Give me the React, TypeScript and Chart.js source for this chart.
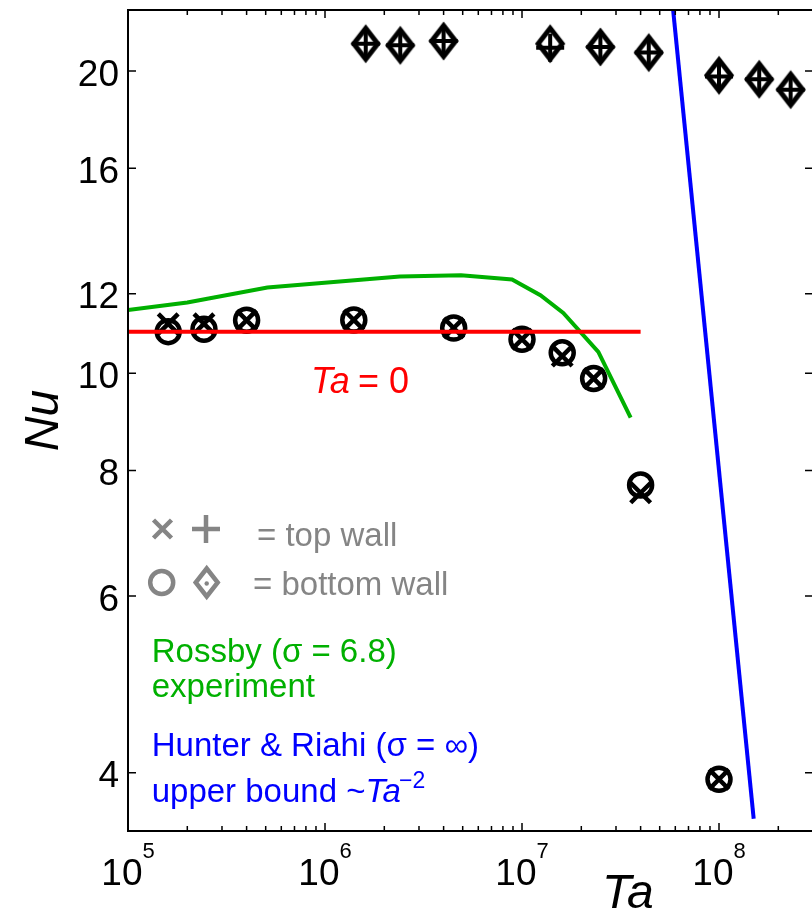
import React, { useEffect, useRef } from 'react';
import { Chart, registerables } from 'chart.js';

Chart.register(...registerables);

const FONT = "'Liberation Sans', Arial, Helvetica, sans-serif";

// Axis ranges and ticks
const xMin = 1e5;
const xMax = 3e8;
const yMin = 3.5;
const yMax = 23;
const yTicks = [4, 6, 8, 10, 12, 16, 20];
const xDecades = [5, 6, 7, 8];

// Ta = 0 reference value
const ta0Ta = [1e5, 4e7];
const ta0Nu = [11.0, 11.0];

// Rossby (sigma = 6.8) experiment
const rossbyTa = [1e5, 2.0e5, 5.1e5, 2.4e6, 4.9e6, 8.9e6, 1.24e7, 1.62e7, 2.44e7, 3.56e7];
const rossbyNu = [11.56, 11.76, 12.17, 12.48, 12.52, 12.4, 11.96, 11.48, 10.5, 9.03];

// Hunter & Riahi upper bound ~ Ta^-2
const hunterTa = [5.85e7, 1.5e8];
const hunterNu = [23.0, 3.6];

// Lower branch (circle = bottom wall, x = top wall)
const lowTa = [1.6e5, 2.43e5, 4.0e5, 1.4e6, 4.5e6, 1.0e7, 1.6e7, 2.31e7, 4.0e7, 1.0e8];
const lowBottomNu = [11.0, 11.06, 11.29, 11.3, 11.09, 10.81, 10.48, 9.88, 7.74, 3.94];
const lowTopNu = [11.2, 11.2, 11.29, 11.3, 11.09, 10.81, 10.4, 9.88, 7.6, 3.94];

// Upper branch (diamond = bottom wall, + = top wall)
const highTa = [1.61e6, 2.41e6, 4.0e6, 1.39e7, 2.5e7, 4.4e7, 1.0e8, 1.6e8, 2.31e8];
const highBottomNu = [21.29, 21.21, 21.42, 21.29, 21.13, 20.86, 19.8, 19.62, 19.16];
const highTopNu = [21.29, 21.21, 21.42, 21.09, 21.13, 20.86, 19.75, 19.62, 19.16];

const zip = (xs: number[], ys: number[]) => xs.map((x, i) => ({ x, y: ys[i] }));

const RED = '#ff0000';
const GREEN = '#00b000';
const BLUE = '#0000ff';
const GRAY = '#858585';

function makeDiamond(hw: number, hh: number, lw: number, color: string) {
  const c = document.createElement('canvas');
  const W = 2 * Math.ceil(hw + lw * 1.5);
  const H = 2 * Math.ceil(hh + lw * 1.5);
  c.width = W;
  c.height = H;
  const g = c.getContext('2d') as CanvasRenderingContext2D;
  g.strokeStyle = color;
  g.lineWidth = lw;
  g.lineJoin = 'miter';
  g.beginPath();
  g.moveTo(W / 2, H / 2 - hh);
  g.lineTo(W / 2 + hw, H / 2);
  g.lineTo(W / 2, H / 2 + hh);
  g.lineTo(W / 2 - hw, H / 2);
  g.closePath();
  g.stroke();
  return c;
}

const framePlugin = {
  id: 'frameAndText',
  afterDatasetsDraw(chart: any) {
    const { ctx, chartArea: a, scales } = chart;
    const xs = scales.x;
    const ys = scales.y;
    ctx.save();
    ctx.strokeStyle = '#000';
    ctx.lineWidth = 2;
    ctx.beginPath();
    ctx.moveTo(a.left, a.top);
    ctx.lineTo(a.right, a.top);
    ctx.lineTo(a.right, a.bottom);
    ctx.lineTo(a.left, a.bottom);
    ctx.closePath();
    ctx.stroke();

    ctx.lineWidth = 1.5;
    ctx.beginPath();
    for (const v of yTicks) {
      const py = ys.getPixelForValue(v);
      ctx.moveTo(a.left, py);
      ctx.lineTo(a.left + 8, py);
      ctx.moveTo(a.right, py);
      ctx.lineTo(a.right - 8, py);
    }
    for (const d of xDecades) {
      for (let k = 1; k <= 9; k++) {
        const v = k * Math.pow(10, d);
        if (v > xMax) continue;
        const px = xs.getPixelForValue(v);
        const len = k === 1 ? 8 : 5;
        ctx.moveTo(px, a.bottom);
        ctx.lineTo(px, a.bottom - len);
        ctx.moveTo(px, a.top);
        ctx.lineTo(px, a.top + len);
      }
    }
    ctx.stroke();
    ctx.restore();
  },
  afterDraw(chart: any) {
    const { ctx, chartArea: a, scales } = chart;
    const xs = scales.x;
    const ys = scales.y;
    ctx.save();
    ctx.fillStyle = '#000';
    ctx.textBaseline = 'alphabetic';

    // y tick labels
    ctx.font = `37px ${FONT}`;
    ctx.textAlign = 'right';
    for (const v of yTicks) {
      const py = ys.getPixelForValue(v);
      ctx.fillText(String(v), a.left - 9, py + 14.7);
    }

    // x tick labels 10^n
    ctx.textAlign = 'left';
    for (const d of xDecades) {
      const px = xs.getPixelForValue(Math.pow(10, d));
      ctx.font = `37px ${FONT}`;
      const w1 = ctx.measureText('10').width;
      ctx.font = `22px ${FONT}`;
      const w2 = ctx.measureText(String(d)).width;
      const start = px - (w1 + w2) / 2;
      ctx.font = `37px ${FONT}`;
      ctx.fillText('10', start, 885);
      ctx.font = `22px ${FONT}`;
      ctx.fillText(String(d), start + w1, 858);
    }

    // axis titles
    ctx.font = `italic 48px ${FONT}`;
    ctx.textAlign = 'left';
    ctx.fillText('Ta', 602, 908);
    ctx.save();
    ctx.translate(58, (a.top + a.bottom) / 2);
    ctx.rotate(-Math.PI / 2);
    ctx.textAlign = 'center';
    ctx.fillText('Nu', 0, 0);
    ctx.restore();

    // Ta = 0 label
    ctx.fillStyle = RED;
    ctx.textAlign = 'left';
    ctx.font = `italic 36px ${FONT}`;
    ctx.fillText('Ta', 311, 393);
    ctx.font = `36px ${FONT}`;
    ctx.fillText('= 0', 358, 393);

    // legend symbols
    ctx.strokeStyle = GRAY;
    ctx.fillStyle = GRAY;
    ctx.lineWidth = 4.5;
    ctx.beginPath();
    ctx.moveTo(162.5 - 9, 529 - 9);
    ctx.lineTo(162.5 + 9, 529 + 9);
    ctx.moveTo(162.5 - 9, 529 + 9);
    ctx.lineTo(162.5 + 9, 529 - 9);
    ctx.moveTo(206, 515);
    ctx.lineTo(206, 543);
    ctx.moveTo(192, 529);
    ctx.lineTo(220, 529);
    ctx.stroke();
    ctx.beginPath();
    ctx.arc(161.7, 582.5, 11.5, 0, Math.PI * 2);
    ctx.stroke();
    ctx.beginPath();
    ctx.lineJoin = 'miter';
    ctx.moveTo(206.7, 582.5 - 14);
    ctx.lineTo(206.7 + 11, 582.5);
    ctx.lineTo(206.7, 582.5 + 14);
    ctx.lineTo(206.7 - 11, 582.5);
    ctx.closePath();
    ctx.stroke();
    ctx.beginPath();
    ctx.arc(206.7, 583.5, 2.2, 0, Math.PI * 2);
    ctx.fill();

    ctx.font = `33px ${FONT}`;
    ctx.fillText('= top wall', 257, 546);
    ctx.fillText('= bottom wall', 253, 595);

    // Rossby text
    ctx.fillStyle = GREEN;
    ctx.fillText('Rossby (\u03c3 = 6.8)', 151.7, 661.7);
    ctx.fillText('experiment', 151.7, 696.7);

    // Hunter & Riahi text
    ctx.fillStyle = BLUE;
    ctx.fillText('Hunter & Riahi (\u03c3 = \u221e)', 151.7, 755.5);
    const pre = 'upper bound ~';
    ctx.fillText(pre, 151.7, 801.5);
    let xx = 151.7 + ctx.measureText(pre).width;
    ctx.font = `italic 33px ${FONT}`;
    ctx.fillText('Ta', xx, 801.5);
    xx += ctx.measureText('Ta').width;
    ctx.font = `23px ${FONT}`;
    ctx.fillText('\u22122', xx - 2, 787.5);

    ctx.restore();
  },
};

export default function App() {
  const ref = useRef<HTMLCanvasElement | null>(null);

  useEffect(() => {
    if (!ref.current) return;
    const diamond = makeDiamond(12, 15.5, 5, '#000');
    const chart = new Chart(ref.current, {
      type: 'scatter',
      data: {
        datasets: [
          {
            label: 'Ta = 0',
            data: zip(ta0Ta, ta0Nu),
            showLine: true,
            borderColor: RED,
            borderWidth: 4,
            pointRadius: 0,
            fill: false,
            clip: 0,
            order: 0,
          } as any,
          {
            label: 'Rossby experiment',
            data: zip(rossbyTa, rossbyNu),
            showLine: true,
            borderColor: GREEN,
            borderWidth: 4,
            pointRadius: 0,
            fill: false,
            clip: 0,
            order: 0,
          },
          {
            label: 'Hunter & Riahi',
            data: zip(hunterTa, hunterNu),
            showLine: true,
            borderColor: BLUE,
            borderWidth: 4,
            pointRadius: 0,
            fill: false,
            clip: 0,
            order: 0,
          },
          {
            label: 'bottom wall (low)',
            data: zip(lowTa, lowBottomNu),
            showLine: false,
            pointStyle: 'circle',
            pointRadius: 11.5,
            pointBorderWidth: 4.5,
            pointBorderColor: '#000',
            pointBackgroundColor: 'rgba(0,0,0,0)',
            order: 1,
          },
          {
            label: 'top wall (low)',
            data: zip(lowTa, lowTopNu),
            showLine: false,
            pointStyle: 'crossRot',
            pointRadius: 14,
            pointBorderWidth: 4.5,
            pointBorderColor: '#000',
            pointBackgroundColor: 'rgba(0,0,0,0)',
            order: 1,
          },
          {
            label: 'bottom wall (high)',
            data: zip(highTa, highBottomNu),
            showLine: false,
            pointStyle: diamond,
            pointRadius: 14,
            pointBorderColor: '#000',
            order: 1,
          },
          {
            label: 'top wall (high)',
            data: zip(highTa, highTopNu),
            showLine: false,
            pointStyle: 'cross',
            pointRadius: 14,
            pointBorderWidth: 4,
            pointBorderColor: '#000',
            pointBackgroundColor: 'rgba(0,0,0,0)',
            order: 1,
          },
        ],
      },
      options: {
        responsive: false,
        animation: false,
        devicePixelRatio: 1,
        events: [],
        layout: { autoPadding: false, padding: { left: 128, top: 10, right: 3, bottom: 79 } },
        scales: {
          x: { type: 'logarithmic', min: xMin, max: xMax, display: false },
          y: { type: 'logarithmic', min: yMin, max: yMax, display: false },
        },
        plugins: {
          legend: { display: false },
          tooltip: { enabled: false },
        },
      },
      plugins: [framePlugin],
    });
    return () => chart.destroy();
  }, []);

  return (
    <div
      style={{
        position: 'absolute',
        left: 0,
        top: 0,
        width: 812,
        height: 910,
        overflow: 'hidden',
        background: '#fff',
      }}
    >
      <canvas ref={ref} width={816} height={910} style={{ display: 'block' }} />
    </div>
  );
}
